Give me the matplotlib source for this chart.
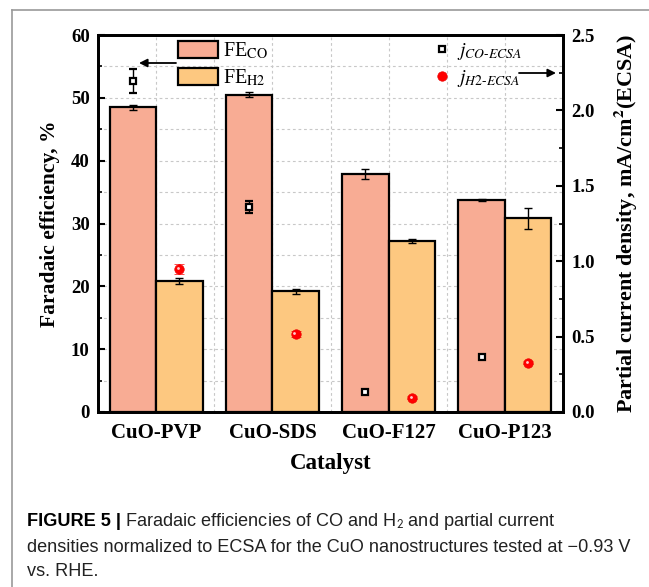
import numpy as np
import matplotlib
matplotlib.use("Agg")
import matplotlib.pyplot as plt
from matplotlib.patches import Patch
from matplotlib.lines import Line2D
from matplotlib.ticker import MultipleLocator

# ---- data ----
catalysts = ["CuO-PVP", "CuO-SDS", "CuO-F127", "CuO-P123"]
fe_co = [48.5, 50.5, 37.9, 33.7]
fe_co_err = [0.4, 0.4, 0.85, 0.15]
fe_h2 = [20.9, 19.2, 27.2, 30.8]
fe_h2_err = [0.45, 0.45, 0.35, 1.6]
j_co = [2.195, 1.36, 0.135, 0.367]
j_co_err = [0.078, 0.042, 0.012, 0.01]
j_h2 = [0.948, 0.517, 0.095, 0.327]
j_h2_err = [0.033, 0.02, 0.01, 0.012]

co_color = "#F8AC94"
h2_color = "#FDC880"

plt.rcParams["font.family"] = ["Liberation Serif", "DejaVu Serif"]
plt.rcParams["mathtext.fontset"] = "stix"

W, H = 649, 587
fig = plt.figure(figsize=(W / 100, H / 100), dpi=100)

# frame lines around the figure panel
fig.add_artist(Line2D([12 / W, 12 / W], [0, 1 - 10 / H], transform=fig.transFigure,
                      color="#9a9a9a", lw=1.2))
fig.add_artist(Line2D([12 / W, 1], [1 - 10 / H, 1 - 10 / H], transform=fig.transFigure,
                      color="#9a9a9a", lw=1.2))

L, R, T, B = 98, 563, 35, 412
ax = fig.add_axes([L / W, 1 - B / H, (R - L) / W, (B - T) / H])
x = np.arange(1, len(catalysts) + 1)
bw = 0.4

ebar_kw = dict(ecolor="black", elinewidth=1.0, capsize=2.8, capthick=1.0)
ax.bar(x - bw / 2, fe_co, bw, color=co_color, edgecolor="black", linewidth=1.6,
       yerr=fe_co_err, error_kw=ebar_kw, zorder=3)
ax.bar(x + bw / 2, fe_h2, bw, color=h2_color, edgecolor="black", linewidth=1.6,
       yerr=fe_h2_err, error_kw=ebar_kw, zorder=3)

ax.set_xlim(0.5, 4.5)
ax.set_ylim(0, 60)
ax.yaxis.set_major_locator(MultipleLocator(10))
ax.yaxis.set_minor_locator(MultipleLocator(5))
ax.set_xticks(x)
ax.set_xticklabels(catalysts, fontsize=15, fontweight="bold")
ax.xaxis.set_minor_locator(MultipleLocator(0.5))
ax.tick_params(axis="x", which="minor", length=0)
ax.tick_params(axis="x", which="major", direction="in", length=3, width=1.2, pad=8)
ax.tick_params(axis="y", which="major", direction="in", length=5, width=1.5,
               labelsize=13.5, pad=6)
ax.tick_params(axis="y", which="minor", direction="in", length=3, width=1.2)
for lab in ax.get_yticklabels():
    lab.set_fontweight("bold")

ax.grid(True, which="both", color="#c8c8c8", linestyle=(0, (2.5, 2.5)), linewidth=0.8,
        zorder=0)
ax.set_axisbelow(True)
for sp in ax.spines.values():
    sp.set_linewidth(2.0)

ax.set_ylabel("Faradaic efficiency, %", fontsize=15.5, fontweight="bold", labelpad=8)
ax.set_xlabel("Catalyst", fontsize=16.5, fontweight="bold", labelpad=7)

# right axis: partial current densities
ax2 = ax.twinx()
ax2.set_ylim(0, 2.5)
ax2.yaxis.set_major_locator(MultipleLocator(0.5))
ax2.yaxis.set_minor_locator(MultipleLocator(0.25))
ax2.tick_params(axis="y", which="major", direction="in", length=5, width=1.5,
                labelsize=13.5, pad=6)
ax2.tick_params(axis="y", which="minor", direction="in", length=3, width=1.2)
for lab in ax2.get_yticklabels():
    lab.set_fontweight("bold")
for sp in ax2.spines.values():
    sp.set_linewidth(2.0)
ax2.set_ylabel("Partial current density, mA/cm$^\\mathbf{2}$(ECSA)", fontsize=15.9,
               fontweight="bold", labelpad=12)

sq_kw = dict(marker="s", ms=5, mfc="white", mec="black", mew=1.6)
ci_kw = dict(marker="o", ms=6.8, mfc="#ff0000", mec="#ee0000", mew=0.5)
ax2.errorbar(x - bw / 2, j_co, yerr=j_co_err, ls="none", ecolor="black", elinewidth=1.0,
             capsize=3, capthick=1.0, zorder=5, **sq_kw)
ax2.errorbar(x + bw / 2, j_h2, yerr=j_h2_err, ls="none", ecolor="#ff0000", elinewidth=1.0,
             capsize=3.3, capthick=1.2, zorder=5, **ci_kw)
ax2.plot(x + bw / 2 - 0.01, np.array(j_h2) + 0.007, "o", ms=2.0, color="#ffd0d0",
         mec="none", zorder=6)

# legends
leg1 = ax2.legend(handles=[Patch(facecolor=co_color, edgecolor="black", linewidth=1.6),
                           Patch(facecolor=h2_color, edgecolor="black", linewidth=1.6)],
                  labels=["FE$_{\\mathrm{CO}}$", "FE$_{\\mathrm{H2}}$"],
                  loc="upper left", bbox_to_anchor=((178 - L) / (R - L), 1 - (41 - T) / (B - T)),
                  frameon=False, fontsize=14.5, handlelength=2.0, handleheight=0.95,
                  handletextpad=0.25, labelspacing=0.3, borderpad=0, borderaxespad=0)
ax2.add_artist(leg1)
sq = Line2D([], [], ls="none", **sq_kw)
ci = Line2D([], [], ls="none", **ci_kw)
ax2.legend(handles=[sq, ci],
           labels=["$j_{CO\\text{-}ECSA}$", "$j_{H2\\text{-}ECSA}$"],
           loc="upper left", bbox_to_anchor=((433 - L) / (R - L), 1 - (41 - T) / (B - T)),
           frameon=False, fontsize=14, handlelength=0.9, handletextpad=0.35,
           labelspacing=0.3, borderpad=0, borderaxespad=0)

# arrows pointing to the relevant axes
arrow_kw = dict(arrowstyle="-|>", color="black", lw=1.3, mutation_scale=12,
                shrinkA=0, shrinkB=0)
ax.annotate("", xy=((139 - L) / (R - L), (B - 63) / (B - T)),
            xytext=((176 - L) / (R - L), (B - 63) / (B - T)), xycoords="axes fraction",
            arrowprops=arrow_kw)
ax2.annotate("", xy=((556 - L) / (R - L), (B - 73) / (B - T)),
             xytext=((519 - L) / (R - L), (B - 73) / (B - T)), xycoords="axes fraction",
             arrowprops=arrow_kw)

# caption
cap_family = ["Liberation Sans", "DejaVu Sans"]
cap_size = 13.1
fig.canvas.draw()
renderer = fig.canvas.get_renderer()
t_bold = fig.text(27 / W, 1 - 522 / H, "FIGURE 5 |", fontsize=cap_size, fontweight="bold",
                  family=cap_family, va="center", ha="left")
bb = t_bold.get_window_extent(renderer)
fig.text(bb.x1 / W + 4 / W, 1 - 522 / H,
         "Faradaic efficiencies of CO and H$_2$ and partial current",
         fontsize=cap_size, family=cap_family, math_fontfamily="stixsans",
         va="center", ha="left", color="#222222")
fig.text(27 / W, 1 - 547 / H,
         "densities normalized to ECSA for the CuO nanostructures tested at \u22120.93 V",
         fontsize=cap_size, family=cap_family, va="center", ha="left", color="#222222")
fig.text(27 / W, 1 - 572 / H, "vs. RHE.", fontsize=cap_size, family=cap_family,
         va="center", ha="left", color="#222222")

fig.savefig("out.png", dpi=100)
